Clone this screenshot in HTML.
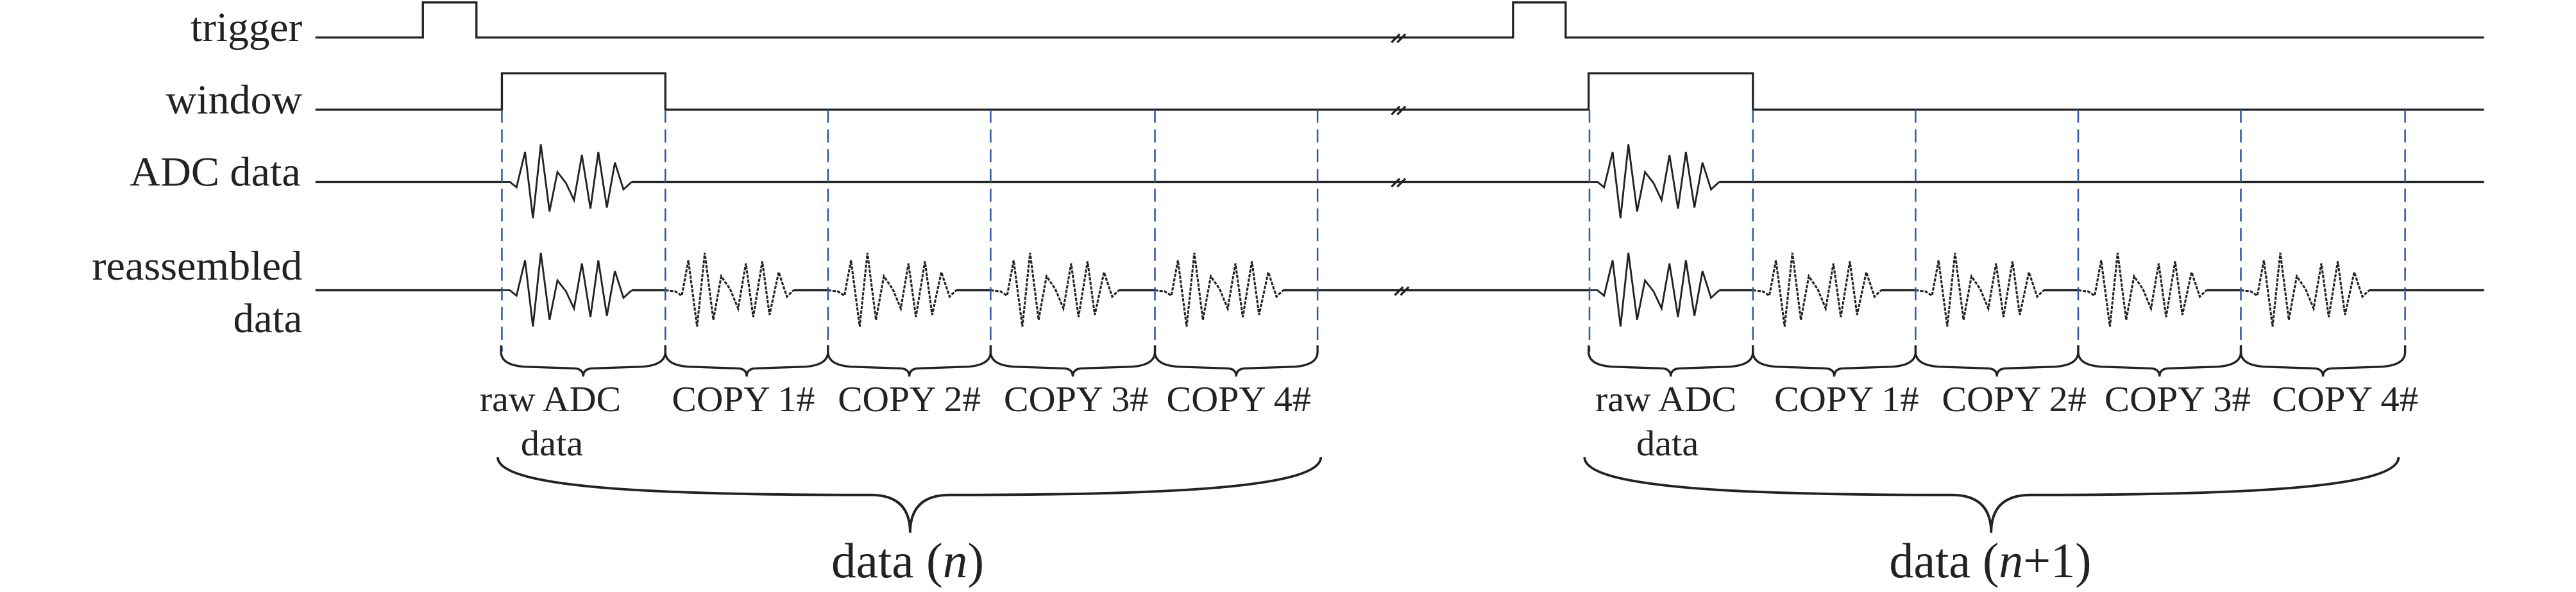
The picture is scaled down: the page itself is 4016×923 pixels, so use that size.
<!DOCTYPE html>
<html><head><meta charset="utf-8"><style>
html,body{margin:0;padding:0;background:#fff;}
svg{display:block;}
text{font-family:"Liberation Serif",serif;fill:#222;}
</style></head><body>
<svg width="4016" height="923" viewBox="0 0 1568 360" preserveAspectRatio="none" xmlns="http://www.w3.org/2000/svg">
<defs>
<path id="raw" d="M0,0 L4.8,0 8.9,3.3 14.1,-18.2 18.9,22.1 23.7,-22.8 29,18 33.8,-6 39,0.7 43.9,11.1 48.7,-16.3 53.9,16.3 58.7,-18.2 63.9,15.6 68.8,-11.7 74,4.6 79,0" fill="none" stroke="#222" stroke-width="1.1" stroke-linejoin="miter"/>
<path id="cp" d="M0,0 L6,0.7 10,3.3 14,-18.2 19.3,22.1 24,-22.8 29.2,18 34,-8.5 39.4,-0.7 44.3,11.1 49,-16.3 53.5,16.3 59,-17.6 63.4,15 69,-11 74,3.9 78,0" fill="none" stroke="#222" stroke-width="1.2" stroke-dasharray="2 0.8"/>
<path id="sb" d="M0,210 L0,214 Q0,222 14,223 L44,224 Q50,224 50,229 Q50,224 56,224 L86,223 Q100,222 100,214 L100,210" fill="none" stroke="#222" stroke-width="1.3"/>
<g id="brk" stroke="#222" stroke-width="1.3"><line x1="847" y1="3" x2="852" y2="-2"/><line x1="850.5" y1="3" x2="855.5" y2="-2"/></g>
</defs>

<!-- left labels -->
<g font-size="25">
<text x="116" y="25" textLength="68" lengthAdjust="spacingAndGlyphs">trigger</text>
<text x="101" y="69" textLength="83" lengthAdjust="spacingAndGlyphs">window</text>
<text x="79" y="113" textLength="104" lengthAdjust="spacingAndGlyphs">ADC data</text>
<text x="56" y="170" textLength="128" lengthAdjust="spacingAndGlyphs">reassembled</text>
<text x="142" y="202" textLength="42" lengthAdjust="spacingAndGlyphs">data</text>
</g>

<g fill="none" stroke="#222" stroke-width="1.3">
<path d="M192,22.8 H257.4 V1.5 H290 V22.8 H921 V1.5 H953 V22.8 H1512"/>
<path d="M192,66.7 H305.5 V44.6 H405 V66.7 H967 V44.6 H1067 V66.7 H1512"/>
<path d="M192,110.6 H305.5 M384.5,110.6 H967.5 M1046.5,110.6 H1512"/>
<path d="M192,176.5 H305.5 M384.5,176.5 H405 M483,176.5 H504 M582,176.5 H603 M681,176.5 H703 M781,176.5 H967.5 M1046.5,176.5 H1067 M1145,176.5 H1166 M1244,176.5 H1265 M1343,176.5 H1364 M1442,176.5 H1512"/>
</g>
<use href="#brk" transform="translate(0,22.8)"/>
<use href="#brk" transform="translate(0,66.7)"/>
<use href="#brk" transform="translate(0,110.6)"/>
<use href="#brk" transform="translate(2,176.5)"/>

<use href="#raw" transform="translate(305.5,110.6)"/>
<use href="#raw" transform="translate(967.5,110.6)"/>
<use href="#raw" transform="translate(305.5,176.5)"/>
<use href="#raw" transform="translate(967.5,176.5)"/>
<use href="#cp" transform="translate(405,176.5)"/>
<use href="#cp" transform="translate(504,176.5)"/>
<use href="#cp" transform="translate(603,176.5)"/>
<use href="#cp" transform="translate(703,176.5)"/>
<use href="#cp" transform="translate(1067,176.5)"/>
<use href="#cp" transform="translate(1166,176.5)"/>
<use href="#cp" transform="translate(1265,176.5)"/>
<use href="#cp" transform="translate(1364,176.5)"/>

<g stroke="#2f5aa8" stroke-width="1" stroke-dasharray="8 4">
<line x1="305.5" y1="66.7" x2="305.5" y2="214"/>
<line x1="405" y1="66.7" x2="405" y2="214"/>
<line x1="504" y1="66.7" x2="504" y2="214"/>
<line x1="603" y1="66.7" x2="603" y2="214"/>
<line x1="703" y1="66.7" x2="703" y2="214"/>
<line x1="802" y1="66.7" x2="802" y2="214"/>
<line x1="967.5" y1="66.7" x2="967.5" y2="214"/>
<line x1="1067" y1="66.7" x2="1067" y2="214"/>
<line x1="1166" y1="66.7" x2="1166" y2="214"/>
<line x1="1265" y1="66.7" x2="1265" y2="214"/>
<line x1="1364" y1="66.7" x2="1364" y2="214"/>
<line x1="1464" y1="66.7" x2="1464" y2="214"/>
</g>

<use href="#sb" transform="translate(305,0)"/>
<use href="#sb" transform="translate(405,0) scale(0.99,1)"/>
<use href="#sb" transform="translate(504,0) scale(0.99,1)"/>
<use href="#sb" transform="translate(603,0)"/>
<use href="#sb" transform="translate(703,0) scale(0.99,1)"/>
<use href="#sb" transform="translate(967,0)"/>
<use href="#sb" transform="translate(1067,0) scale(0.99,1)"/>
<use href="#sb" transform="translate(1166,0) scale(0.99,1)"/>
<use href="#sb" transform="translate(1265,0) scale(0.99,1)"/>
<use href="#sb" transform="translate(1364,0)"/>

<g font-size="22">
<text x="292" y="250" textLength="86" lengthAdjust="spacingAndGlyphs">raw ADC</text>
<text x="317" y="277" textLength="38" lengthAdjust="spacingAndGlyphs">data</text>
<text x="409" y="250" textLength="87" lengthAdjust="spacingAndGlyphs">COPY 1#</text>
<text x="510" y="250" textLength="87" lengthAdjust="spacingAndGlyphs">COPY 2#</text>
<text x="611" y="250" textLength="88" lengthAdjust="spacingAndGlyphs">COPY 3#</text>
<text x="710" y="250" textLength="88" lengthAdjust="spacingAndGlyphs">COPY 4#</text>
<text x="971" y="250" textLength="86" lengthAdjust="spacingAndGlyphs">raw ADC</text>
<text x="996" y="277" textLength="38" lengthAdjust="spacingAndGlyphs">data</text>
<text x="1080" y="250" textLength="88" lengthAdjust="spacingAndGlyphs">COPY 1#</text>
<text x="1182" y="250" textLength="88" lengthAdjust="spacingAndGlyphs">COPY 2#</text>
<text x="1281" y="250" textLength="89" lengthAdjust="spacingAndGlyphs">COPY 3#</text>
<text x="1383" y="250" textLength="89" lengthAdjust="spacingAndGlyphs">COPY 4#</text>
</g>

<g fill="none" stroke="#222" stroke-width="1.5">
<path d="M303,278 C303,297 400,301 530,301 Q554,301 554,324 Q554,301 578,301 C708,301 804,297 804,278"/>
<path d="M964.5,278 C964.5,297 1060,301 1188,301 Q1212,301 1212,324 Q1212,301 1236,301 C1364,301 1460,297 1460,278"/>
</g>
<text x="506" y="351" font-size="30" textLength="93" lengthAdjust="spacingAndGlyphs">data (<tspan font-style="italic">n</tspan>)</text>
<text x="1150" y="351" font-size="30" textLength="123" lengthAdjust="spacingAndGlyphs">data (<tspan font-style="italic">n</tspan>+1)</text>
</svg>
</body></html>
